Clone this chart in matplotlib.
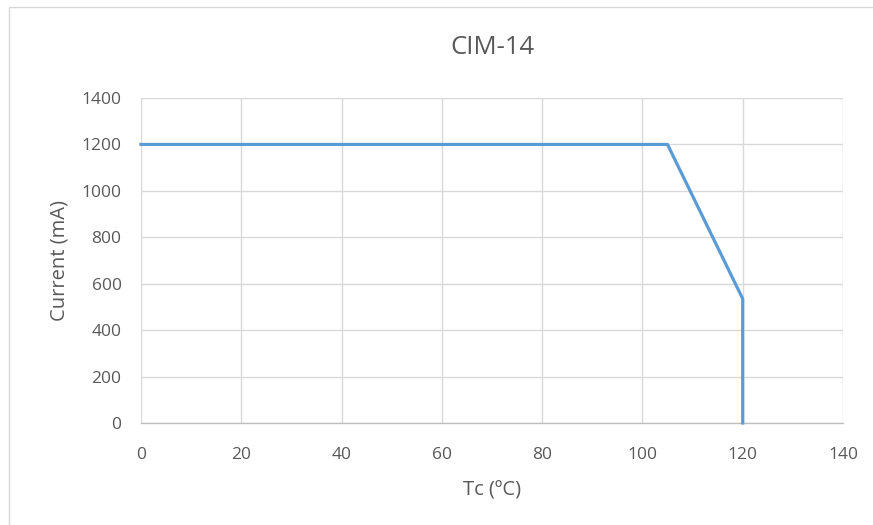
import matplotlib
matplotlib.use("Agg")
import matplotlib.pyplot as plt
from matplotlib.patches import Rectangle

tc = [0, 105, 120, 120]
current = [1200, 1200, 535, 0]
xticks = [0, 20, 40, 60, 80, 100, 120, 140]
yticks = [0, 200, 400, 600, 800, 1000, 1200, 1400]

plt.rcParams['font.family'] = ['Open Sans', 'DejaVu Sans']
txt = '#595959'

fig = plt.figure(figsize=(8.73, 5.25), dpi=100)
W, H = 873, 525
ax = fig.add_axes([141 / W, 1 - 423 / H, (843 - 141) / W, (423 - 98) / H])

ax.plot(tc, current, color='#5B9BD5', lw=2.3, solid_joinstyle='round', zorder=3, clip_on=False)
ax.set_xlim(0, 140)
ax.set_ylim(0, 1400)
ax.set_xticks(xticks)
ax.set_yticks(yticks)
ax.grid(True, color='#D9D9D9', lw=1.0)
ax.set_axisbelow(True)
for s in ['top', 'right', 'left']:
    ax.spines[s].set_visible(False)
ax.spines['bottom'].set_color('#BFBFBF')
ax.spines['bottom'].set_linewidth(1.0)
ax.tick_params(length=0, labelsize=12.5, colors=txt)
ax.tick_params(axis='y', pad=14)
ax.tick_params(axis='x', pad=17)
ax.set_xlabel('Tc (ºC)', fontsize=14.5, color=txt, labelpad=13)
ax.set_ylabel('Current (mA)', fontsize=14.5, color=txt, labelpad=9)
fig.text(492 / W, 1 - 47 / H, 'CIM-14', ha='center', va='center', fontsize=18.5, color=txt)

fig.patches.append(Rectangle((9 / W, -0.01), 1.1, 1 - 7 / H + 0.01, transform=fig.transFigure,
                             fill=False, edgecolor='#D9D9D9', lw=1.0))

fig.savefig('out.png', dpi=100)
